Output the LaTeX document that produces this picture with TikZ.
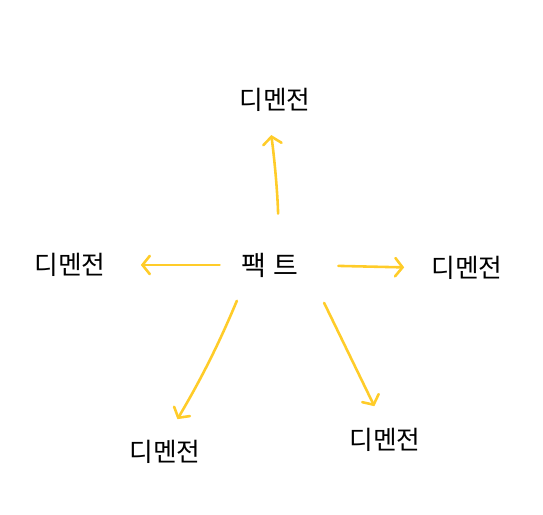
\documentclass[tikz,border=0pt]{standalone}
\usepackage{fontspec}
\newfontfamily\kofont{Noto Sans CJK KR}
\usetikzlibrary{arrows.meta}
\definecolor{penyellow}{RGB}{255,204,41}
\tikzset{
	dim/.style = {inner sep = 0pt, font = \kofont\fontsize{22}{26}\selectfont},
	fact/.style = {inner sep = 0pt, font = \kofont\fontsize{23}{27}\selectfont},
	arr/.style = {penyellow, line width = 2.2pt, line cap = round, -{Straight Barb[length=2.2mm, width=5.5mm, line cap=round]}}
}
\begin{document}
\begin{tikzpicture}[x = 0.03cm, y = -0.03cm]
		\useasboundingbox (0,0) rectangle (543,515);
		\node[fact] (fact) at (270,265) {팩\hspace{0.25em}트};
		\node[dim] (dimT) at (275,100) {디멘전};
		\node[dim] (dimL) at (70,265) {디멘전};
		\node[dim] (dimR) at (467,268) {디멘전};
		\node[dim] (dimBL) at (165,452) {디멘전};
		\node[dim] (dimBR) at (385,440) {디멘전};
		\draw[arr, shorten < = 1.17cm, shorten > = 0.7cm] ([xshift = 0.27cm]fact.north) to[bend right = 3] ([xshift = -0.2cm]dimT.south);
		\draw[arr, shorten < = 0.66cm, shorten > = 1.05cm] (fact.west) -- (dimL.east);
		\draw[arr, shorten < = 1.2cm, shorten > = 0.81cm] (fact.east) -- (dimR.west);
		\draw[arr, shorten < = 0.76cm, shorten > = 0.73cm] ([xshift = 0.15cm]fact.south west) to[bend left = 4] (dimBL.north);
		\draw[arr, shorten < = 0.85cm, shorten > = 0.73cm] ([xshift = 0.4cm]fact.south east) -- (dimBR.north);
	\end{tikzpicture}
\end{document}
